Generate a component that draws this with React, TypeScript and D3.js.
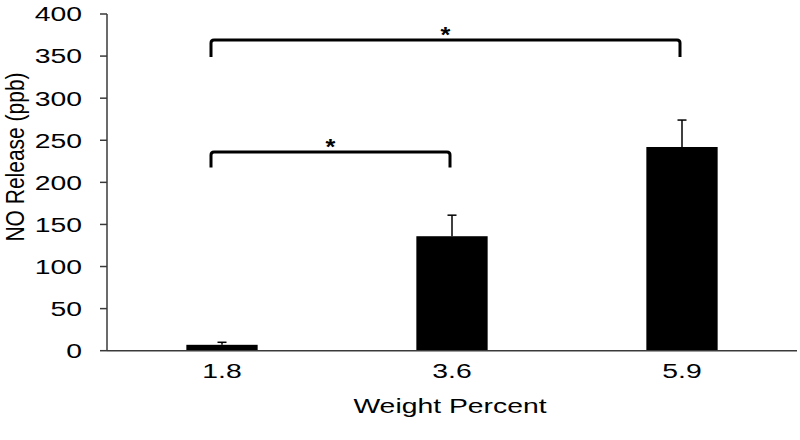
import React from "react";
import * as d3 from "d3";

const categories: string[] = ["1.8", "3.6", "5.9"];
const values: number[] = [7, 136, 242];
const errors: number[] = [3, 25, 32];
const yTicks: number[] = [0, 50, 100, 150, 200, 250, 300, 350, 400];
const brackets = [
  { from: "1.8", to: "5.9", level: 369, drop: 20, label: "*" },
  { from: "1.8", to: "3.6", level: 236, drop: 18.5, label: "*" },
];

const W = 800;
const H = 440;
const axisX = 107;
const plotRight = 797;
const yTop = 14;
const yBottom = 350.7;
const font = "'Liberation Sans', Arial, sans-serif";
const stretch = 1.35;

export default function App() {
  const x = d3
    .scaleBand<string>()
    .domain(categories)
    .range([axisX, plotRight])
    .paddingInner(0.69)
    .paddingOuter(0.345);
  const y = d3.scaleLinear().domain([0, 400]).range([yBottom, yTop]);
  const bw = x.bandwidth();
  const cx = (c: string) => (x(c) as number) + bw / 2;
  const axisColor = "#3a3a3a";

  return (
    <svg
      width={W}
      height={H}
      style={{ position: "absolute", left: 0, top: 0, background: "#fff" }}
    >
      <rect x={0} y={0} width={W} height={H} fill="#fff" />
      {/* bars */}
      {categories.map((c, i) => (
        <rect
          key={c}
          x={x(c)}
          y={y(values[i])}
          width={bw}
          height={y(0) - y(values[i])}
          fill="#000"
        />
      ))}
      {/* error bars */}
      {categories.map((c, i) => (
        <g key={"e" + c} stroke="#000" strokeWidth={1.5}>
          <line x1={cx(c)} x2={cx(c)} y1={y(values[i])} y2={y(values[i] + errors[i])} />
          <line
            x1={cx(c) - 4.5}
            x2={cx(c) + 4.5}
            y1={y(values[i] + errors[i])}
            y2={y(values[i] + errors[i])}
          />
        </g>
      ))}
      {/* y axis */}
      <line x1={axisX} x2={axisX} y1={yTop} y2={yBottom} stroke={axisColor} strokeWidth={1.5} />
      {yTicks.map((t) => (
        <g key={t}>
          <line x1={axisX - 7} x2={axisX} y1={y(t)} y2={y(t)} stroke={axisColor} strokeWidth={1.5} />
          <text
            transform={`translate(82,${y(t)}) scale(${stretch},1)`}
            dy="0.35em"
            textAnchor="end"
            fontFamily={font}
            fontSize={21}
            fill="#000"
          >
            {t}
          </text>
        </g>
      ))}
      {/* x axis */}
      <line x1={axisX} x2={plotRight} y1={yBottom} y2={yBottom} stroke={axisColor} strokeWidth={1.5} />
      {categories.map((c) => (
        <text
          key={"l" + c}
          transform={`translate(${cx(c)},371) scale(${stretch},1)`}
          dy="0.35em"
          textAnchor="middle"
          fontFamily={font}
          fontSize={21}
          fill="#000"
        >
          {c}
        </text>
      ))}
      <text
        transform={`translate(${(axisX + plotRight) / 2 - 2},406) scale(${stretch},1)`}
        dy="0.35em"
        textAnchor="middle"
        fontFamily={font}
        fontSize={21}
        fill="#000"
      >
        Weight Percent
      </text>
      <text
        transform={`translate(23.5,157) scale(1.25,1) rotate(-90)`}
        textAnchor="middle"
        fontFamily={font}
        fontSize={21}
        fill="#000"
      >
        NO Release (ppb)
      </text>
      {/* significance brackets */}
      {brackets.map((b, i) => {
        const x1 = cx(b.from) - 11;
        const x2 = cx(b.to) - 2;
        const yl = y(b.level);
        const yd = y(b.level - b.drop);
        const r = 3;
        const path = `M${x1},${yd} L${x1},${yl + r} Q${x1},${yl} ${x1 + r},${yl} L${x2 - r},${yl} Q${x2},${yl} ${x2},${yl + r} L${x2},${yd}`;
        return (
          <g key={"b" + i}>
            <path d={path} fill="none" stroke="#000" strokeWidth={3} />
            <text
              transform={`translate(${(x1 + x2) / 2},${yl + 2}) scale(1.15,1)`}
              textAnchor="middle"
              fontFamily={font}
              fontWeight="bold"
              fontSize={22}
              fill="#000"
            >
              {b.label}
            </text>
          </g>
        );
      })}
    </svg>
  );
}
